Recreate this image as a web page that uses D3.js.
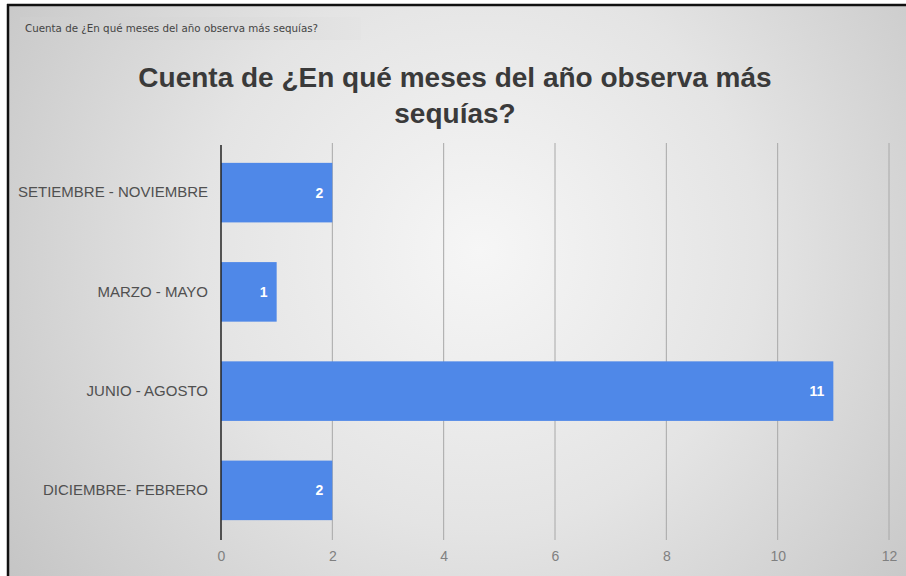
<!DOCTYPE html>
<html><head><meta charset="utf-8">
<script src="https://cdn.jsdelivr.net/npm/d3@7"></script>
<style>html,body{margin:0;padding:0;background:#fff;overflow:hidden}</style>
</head><body>
<svg id="c" width="906" height="576"></svg>
<script>
const categories = ["SETIEMBRE - NOVIEMBRE", "MARZO - MAYO", "JUNIO - AGOSTO", "DICIEMBRE- FEBRERO"];
const values = [2, 1, 11, 2];
const xTicks = [0, 2, 4, 6, 8, 10, 12];
const titleLines = ["Cuenta de ¿En qué meses del año observa más", "sequías?"];
const tabLabel = "Cuenta de ¿En qué meses del año observa más sequías?";

const svg = d3.select("#c");
const W = 906, H = 576;
const defs = svg.append("defs");
const rg = defs.append("radialGradient").attr("id","bg")
  .attr("gradientUnits","userSpaceOnUse").attr("cx",480).attr("cy",250).attr("r",620);
rg.append("stop").attr("offset","0").attr("stop-color","#f6f6f6");
rg.append("stop").attr("offset","0.45").attr("stop-color","#e4e4e4");
rg.append("stop").attr("offset","1").attr("stop-color","#c0c0c0");
const tg = defs.append("linearGradient").attr("id","tab").attr("x1",0).attr("y1",0).attr("x2",1).attr("y2",0);
tg.append("stop").attr("offset","0").attr("stop-color","#cdcdcd");
tg.append("stop").attr("offset","1").attr("stop-color","#e4e4e4");

svg.append("rect").attr("x",0).attr("y",0).attr("width",W).attr("height",H).attr("fill","#fff");
svg.append("rect").attr("x",8).attr("y",5).attr("width",W-8).attr("height",H-5).attr("fill","url(#bg)");
svg.append("line").attr("x1",8).attr("y1",4).attr("x2",8).attr("y2",H).attr("stroke","#111").attr("stroke-width",2.5);
svg.append("line").attr("x1",7).attr("y1",5).attr("x2",W).attr("y2",5).attr("stroke","#111").attr("stroke-width",2.5);

// tab label
svg.append("rect").attr("x",20).attr("y",17).attr("width",341).attr("height",23).attr("fill","url(#tab)");
svg.append("text").attr("x",25).attr("y",32).attr("font-family","DejaVu Sans, sans-serif")
  .attr("font-size",10.3).attr("fill","#444").text(tabLabel);

// title
const title = svg.append("text").attr("text-anchor","middle").attr("font-family","Liberation Sans, Arial, sans-serif")
  .attr("font-weight","bold").attr("font-size",28).attr("fill","#3a3a3a");
titleLines.forEach((t,i)=>title.append("tspan").attr("x",455).attr("y",87+i*36).text(t));

const x = d3.scaleLinear().domain([0,12]).range([221,889]);
const y = d3.scaleBand().domain(categories).range([143,540]).paddingInner(0.4).paddingOuter(0.2);

svg.append("g").selectAll("line").data(xTicks.filter(d=>d>0)).join("line")
  .attr("x1",d=>x(d)).attr("x2",d=>x(d)).attr("y1",143).attr("y2",540)
  .attr("stroke","#a8a8a8").attr("stroke-width",1);

const xa = svg.append("g").attr("transform","translate(0,540)")
  .call(d3.axisBottom(x).tickValues(xTicks).tickSize(0).tickPadding(11));
xa.select(".domain").remove();
xa.selectAll("text").attr("font-family","Liberation Sans, Arial, sans-serif").attr("font-size",14).attr("fill","#808080");

svg.append("g").selectAll("rect").data(values).join("rect")
  .attr("x",x(0)).attr("y",(d,i)=>y(categories[i]))
  .attr("width",d=>x(d)-x(0)).attr("height",y.bandwidth())
  .attr("fill","#4f88e8");

svg.append("g").selectAll("text").data(values).join("text")
  .attr("x",d=>x(d)-9).attr("y",(d,i)=>y(categories[i])+y.bandwidth()/2)
  .attr("dy","0.35em").attr("text-anchor","end")
  .attr("font-family","Liberation Sans, Arial, sans-serif").attr("font-weight","bold")
  .attr("font-size",14).attr("fill","#fff").text(d=>d);

const ya = svg.append("g").attr("transform",`translate(${x(0)},0)`)
  .call(d3.axisLeft(y).tickSize(0).tickPadding(13));
ya.select(".domain").remove();
ya.selectAll("text").attr("font-family","Liberation Sans, Arial, sans-serif").attr("font-size",15).attr("fill","#505050");
svg.append("line").attr("x1",x(0)).attr("x2",x(0)).attr("y1",145).attr("y2",540)
  .attr("stroke","#222").attr("stroke-width",1.5);
</script>
</body></html>
